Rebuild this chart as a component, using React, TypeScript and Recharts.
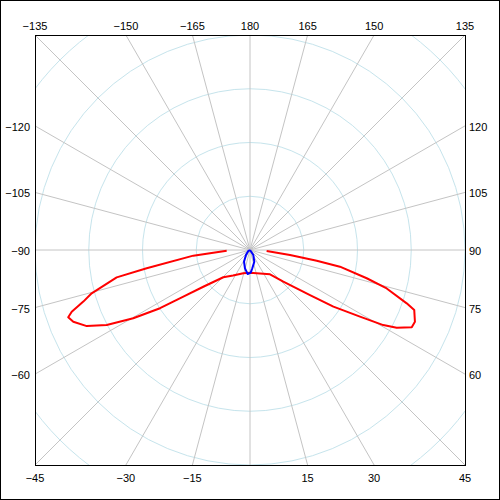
import { RadarChart, Radar, PolarAngleAxis, PolarRadiusAxis } from "recharts";

// polar angle in degrees (0 = down, 90 = right), radius in plot units
const redAngles = [
  -88.3, -84.3, -80.0, -78.4, -74.7, -72.8, -70.9, -69.7, -67.9, -65.0, -62.4, -59.7, -57.1,
  -55.0, -51.8, -44.4, -33.7, -16.0, 0, 23.0, 39.5, 46.4, 53.1, 55.8, 58.8, 60.6, 62.1, 64.5,
  66.5, 69.9, 71.2, 74.3, 76.4, 79.5, 80.9, 82.9, 86.6,
];
const redValues = [
  2.17, 5.3, 9.76, 12.66, 15.27, 16.23, 17.55, 18.03, 17.74, 16.75, 15.04, 12.58, 9.97, 7.57,
  5.53, 3.55, 2.85, 2.25, 2.11, 2.37, 2.93, 4.28, 6.98, 9.38, 11.96, 14.23, 15.44, 16.67, 16.73,
  16.27, 15.4, 13.21, 11.17, 8.51, 6.29, 3.75, 1.55,
];
const blueAngles = [-90, -59.5, -38.7, -27.2, -15.3, -5.5, 1.8, 7.2, 20.2, 33.4, 90];
const blueValues = [0, 0.19, 0.6, 1.22, 1.77, 2.24, 2.11, 1.71, 1.16, 0.56, 0];

const angleTicks = [
  -165, -150, -135, -120, -105, -90, -75, -60, -45, -30, -15, 0, 15, 30, 45, 60, 75, 90, 105,
  120, 135, 150, 165, 180,
];
const radiusTicks = [5, 10, 15, 20, 25];

const SIZE = 500;
const CX = 250;
const CY = 250;
const HALF = 215; // half width of the plot box
const OUTER = 268.75;

type Row = { angle: number; red?: number; blue?: number };
const byAngle = new Map<number, Row>();
redAngles.forEach((a, i) => {
  const r = byAngle.get(a) ?? { angle: a };
  r.red = redValues[i];
  byAngle.set(a, r);
});
blueAngles.forEach((a, i) => {
  const r = byAngle.get(a) ?? { angle: a };
  r.blue = blueValues[i];
  byAngle.set(a, r);
});
const data: Row[] = [...byAngle.values()].sort((p, q) => p.angle - q.angle);

const fmt = (v: number) => (v < 0 ? `\u2212${-v}` : String(v));

const AngleTick = (props: any) => {
  const { payload } = props;
  const a = (payload.coordinate * Math.PI) / 180;
  const dx = Math.cos(a);
  const dy = -Math.sin(a);
  const t = HALF / Math.max(Math.abs(dx), Math.abs(dy));
  const ex = CX + dx * t;
  const ey = CY + dy * t;
  const side = Math.abs(dx) > Math.abs(dy) + 1e-6;
  let tx = ex;
  let ty = ey;
  let anchor: "start" | "middle" | "end" = "middle";
  if (side) {
    ty = ey + 5;
    if (dx < 0) {
      tx = ex - 5;
      anchor = "end";
    } else {
      tx = ex + 4;
      anchor = "start";
    }
  } else if (dy < 0) {
    ty = ey - 5.5;
  } else {
    ty = ey + 17;
  }
  return (
    <g>
      <line x1={CX} y1={CY} x2={ex} y2={ey} stroke="#c4c4c4" strokeWidth={1} />
      {payload.value !== 0 && (
        <text
          x={tx}
          y={ty}
          textAnchor={anchor}
          fontSize={11}
          fontFamily="'Liberation Sans', Arial, sans-serif"
          fill="#000"
        >
          {fmt(payload.value)}
        </text>
      )}
    </g>
  );
};

// concentric grid ring at each radius tick, clipped to the plot box
const RingTick = (props: any) => {
  const id = `ring-clip-${props.index}`;
  return (
    <g>
      <defs>
        <clipPath id={id}>
          <rect x={CX - HALF + 1} y={CY - HALF + 1} width={2 * HALF - 1} height={2 * HALF - 1} />
        </clipPath>
      </defs>
      <circle
        cx={CX}
        cy={CY}
        r={props.payload.coordinate}
        fill="none"
        stroke="#c6e4ec"
        strokeWidth={1}
        clipPath={`url(#${id})`}
      />
    </g>
  );
};

const OpenCurve = (props: any) => {
  const pts = (props.points || []).filter(
    (p: any) => p.value != null && Number.isFinite(p.x) && Number.isFinite(p.y)
  );
  if (!pts.length) return <g />;
  const d = pts.map((p: any, i: number) => `${i ? "L" : "M"}${p.x},${p.y}`).join("");
  return (
    <path
      d={d}
      fill="none"
      stroke={props.stroke}
      strokeWidth={props.strokeWidth}
      strokeLinejoin="round"
    />
  );
};

export default function App() {
  return (
    <div
      style={{
        position: "absolute",
        left: 0,
        top: 0,
        width: SIZE,
        height: SIZE,
        background: "#fff",
      }}
    >
      <div
        style={{
          position: "absolute",
          left: 0,
          top: 0,
          width: SIZE,
          height: SIZE,
          boxSizing: "border-box",
          border: "1px solid #000",
        }}
      />
      <div style={{ position: "absolute", left: 0, top: 0 }}>
        <RadarChart
          width={SIZE}
          height={SIZE}
          data={data}
          cx={CX}
          cy={CY}
          outerRadius={OUTER}
          startAngle={-270}
          endAngle={90}
          margin={{ top: 0, right: 0, bottom: 0, left: 0 }}
        >
          <PolarRadiusAxis
            type="number"
            domain={[0, 25]}
            ticks={radiusTicks}
            tick={RingTick}
            axisLine={false}
            tickLine={false}
            zIndex={-100}
          />
          <PolarAngleAxis
            dataKey="angle"
            type="number"
            domain={[-180, 180]}
            ticks={angleTicks}
            tick={AngleTick}
            axisLine={false}
            tickLine={false}
            zIndex={-90}
          />
          <Radar
            dataKey="red"
            stroke="#ff0000"
            strokeWidth={2}
            fill="none"
            dot={false}
            activeDot={false}
            shape={OpenCurve}
            isAnimationActive={false}
          />
          <Radar
            dataKey="blue"
            stroke="#0000ff"
            strokeWidth={2}
            fill="none"
            dot={false}
            activeDot={false}
            shape={OpenCurve}
            isAnimationActive={false}
          />
        </RadarChart>
      </div>
      <div
        style={{
          position: "absolute",
          left: 35,
          top: 35,
          width: 431,
          height: 431,
          boxSizing: "border-box",
          border: "1px solid #000",
          pointerEvents: "none",
        }}
      />
    </div>
  );
}
